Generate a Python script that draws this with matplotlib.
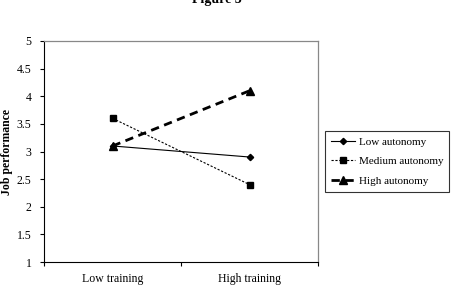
import numpy as np
import matplotlib
matplotlib.use("Agg")
import matplotlib.pyplot as plt

# ----------------------------
# Datos
# ----------------------------
categories = ["Low training", "High training"]
low_autonomy = [3.1, 2.9]
medium_autonomy = [3.6, 2.4]
high_autonomy = [3.1, 4.1]
y_ticks = [1, 1.5, 2, 2.5, 3, 3.5, 4, 4.5, 5]

plt.rcParams["font.family"] = ["Liberation Serif", "DejaVu Serif"]

fig = plt.figure(figsize=(4.57, 2.92), dpi=100)
ax = fig.add_axes([0.0963, 0.1027, 0.6000, 0.7569])

x = np.arange(len(categories)) + 0.5

ax.plot(x, low_autonomy, color="black", lw=0.8, marker="D", ms=3.2,
        label="Low autonomy")
ax.plot(x, medium_autonomy, color="black", lw=0.8, ls=(0, (2, 1.5)),
        marker="s", ms=4.5, label="Medium autonomy")
ax.plot(x, high_autonomy, color="black", lw=2.0, ls=(0, (3, 2)),
        marker="^", ms=6, label="High autonomy")

ax.set_xlim(0, 2)
ax.set_ylim(1, 5)
ax.set_yticks(y_ticks)
ax.set_yticklabels([f"{v:g}" for v in y_ticks], fontsize=8.5)
ax.set_xticks([0, 1, 2])
ax.set_xticklabels([])
ax.set_xticks(x, minor=True)
ax.set_xticklabels(categories, minor=True, fontsize=8.5)
ax.tick_params(axis="x", which="minor", length=0, pad=8)
ax.tick_params(axis="both", which="major", length=3, width=0.8, direction="out")
ax.tick_params(axis="y", pad=6)

for s in ["top", "right"]:
    ax.spines[s].set_color("#888888")
    ax.spines[s].set_linewidth(0.9)
for s in ["left", "bottom"]:
    ax.spines[s].set_color("black")
    ax.spines[s].set_linewidth(0.8)

ax.set_ylabel("Job performance", fontsize=8.5, fontweight="bold")
ax.yaxis.set_label_coords(-0.112, 0.5)

fig.text(0.475, 1.0, "Figure 3", ha="center", va="center",
         fontsize=10, fontweight="bold")

leg = fig.legend(loc="center", bbox_to_anchor=(0.7155, 0.346, 0.2626, 0.202),
                 fontsize=8, frameon=True, fancybox=False, edgecolor="black",
                 handlelength=2.2, handletextpad=0.3, borderpad=0.5,
                 labelspacing=0.9, borderaxespad=0)
leg.get_frame().set_linewidth(0.8)

fig.savefig("out.png", dpi=100)
